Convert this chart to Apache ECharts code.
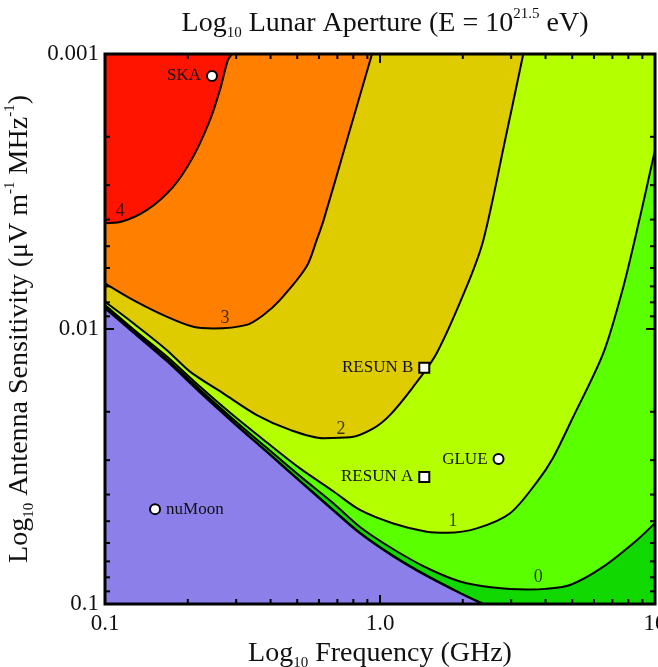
<!DOCTYPE html>
<html>
<head>
<meta charset="utf-8">
<title>Log10 Lunar Aperture</title>
<script src="https://cdn.jsdelivr.net/npm/echarts@6/dist/echarts.min.js"></script>
<style>
html, body { margin: 0; padding: 0; background: #fff; }
#chart { width: 658px; height: 667px; }
</style>
</head>
<body>
<div id="chart"></div>
<script>
// everything is in log10 units: [log10 frequency (GHz), log10 sensitivity]
const xTickLabels = ['0.1', '1.0', '10'];
const yTickLabels = ['0.001', '0.01', '0.1'];
const xDecades = [-1, 0, 1];
const yDecades = [-3, -2, -1];
const minorLogs = [0.301, 0.477, 0.602, 0.699, 0.778, 0.845, 0.903, 0.954];

// contour lines of log10 aperture
const curve4 = [[-1.000, -2.385], [-0.945, -2.389], [-0.847, -2.433], [-0.753, -2.516], [-0.680, -2.625],
    [-0.618, -2.760], [-0.582, -2.869], [-0.553, -2.978], [-0.538, -3.000]];
const curve3 = [[-1.000, -2.166], [-0.897, -2.105], [-0.776, -2.045], [-0.679, -2.008], [-0.607, -2.002],
    [-0.485, -2.015], [-0.424, -2.051], [-0.364, -2.105], [-0.267, -2.227], [-0.230, -2.324],
    [-0.205, -2.396], [-0.120, -2.687], [-0.029, -3.000]];
const curve2 = [[-1.000, -2.099], [-0.897, -2.021], [-0.776, -1.924], [-0.691, -1.845], [-0.570, -1.766],
    [-0.448, -1.687], [-0.327, -1.633], [-0.206, -1.603], [-0.109, -1.606], [-0.024, -1.639],
    [0.036, -1.687], [0.120, -1.789], [0.206, -1.912], [0.315, -2.154], [0.376, -2.324],
    [0.455, -2.687], [0.521, -3.000]];
const curve1 = [[-1.000, -2.087], [-0.898, -2.000], [-0.775, -1.900], [-0.655, -1.791], [-0.535, -1.687],
    [-0.411, -1.587], [-0.291, -1.493], [-0.171, -1.411], [-0.073, -1.342], [0.048, -1.293],
    [0.170, -1.263], [0.243, -1.259], [0.352, -1.275], [0.473, -1.330], [0.571, -1.444],
    [0.629, -1.531], [0.697, -1.669], [0.812, -1.912], [0.885, -2.154], [0.943, -2.396], [1.000, -2.651]];
const curve0 = [[-1.000, -2.082], [-0.898, -1.995], [-0.775, -1.891], [-0.655, -1.780], [-0.535, -1.673],
    [-0.411, -1.567], [-0.291, -1.465], [-0.171, -1.367], [-0.073, -1.280], [0.047, -1.200],
    [0.171, -1.131], [0.291, -1.082], [0.411, -1.060], [0.535, -1.053], [0.600, -1.055],
    [0.691, -1.069], [0.811, -1.135], [0.935, -1.233], [1.000, -1.295]];
// lower edge: below it no detection (purple)
const noDetectEdge = [[-1.000, -2.076], [-0.898, -1.989], [-0.775, -1.884], [-0.655, -1.771], [-0.535, -1.662],
    [-0.411, -1.553], [-0.291, -1.447], [-0.171, -1.342], [-0.073, -1.258], [0.047, -1.175],
    [0.171, -1.102], [0.291, -1.040], [0.375, -1.000]];

const circleSites = [['SKA', -0.611, -2.920, 'left'], ['GLUE', 0.431, -1.527, 'left'], ['nuMoon', -0.818, -1.345, 'right']];
const squareSites = [['RESUN B', 0.161, -1.859, 'left'], ['RESUN A', 0.161, -1.462, 'left']];
const levelLabels = [['4', -0.945, -2.429], ['3', -0.564, -2.040], ['2', -0.142, -1.636], ['1', 0.265, -1.302], ['0', 0.575, -1.098]];

const serif = 'Liberation Serif';

// filled band: the area between a contour and the top (or bottom) edge
function band(pts, color, origin) {
    return {
        type: 'line', data: pts, showSymbol: false, silent: true, z: 2,
        smooth: 0.3,
        lineStyle: { width: 0 },
        areaStyle: { color: color, opacity: 1, origin: origin }
    };
}

function contour(pts, width) {
    return {
        type: 'line', data: pts, showSymbol: false, silent: true, z: 3,
        smooth: 0.3,
        lineStyle: { color: '#000', width: width }
    };
}

const sub = { fontFamily: serif, fontSize: 15, lineHeight: 15, verticalAlign: 'bottom', color: '#111' };
const sup = { fontFamily: serif, fontSize: 15, lineHeight: 15, verticalAlign: 'top', color: '#111' };
const big = { fontFamily: serif, fontSize: 28, lineHeight: 34, fontWeight: 'normal', color: '#111' };

const chart = echarts.init(document.getElementById('chart'));
chart.setOption({
    animation: false,
    title: {
        text: '{t|Log}{s|10}{t| Lunar Aperture (E = 10}{p|21.5}{t| eV)}',
        left: 380,
        top: 2,
        textAlign: 'center',
        textStyle: { fontWeight: 'normal', rich: { t: big, s: sub, p: sup } }
    },
    grid: {
        left: 105, top: 54, width: 550, height: 550,
        outerBoundsMode: 'none',
        show: true, backgroundColor: '#10d800', borderWidth: 0
    },
    xAxis: {
        type: 'value', min: -1, max: 1, interval: 1,
        name: '{t|Log}{s|10}{t| Frequency (GHz)}',
        nameLocation: 'middle', nameGap: 30,
        nameTextStyle: { rich: { t: big, s: sub } },
        axisLine: { show: false }, axisTick: { show: false }, splitLine: { show: false },
        axisLabel: {
            margin: 8, fontFamily: serif, fontSize: 23, color: '#111',
            formatter: function (v) { return xTickLabels[xDecades.indexOf(v)]; }
        }
    },
    yAxis: {
        type: 'value', min: -3, max: -1, interval: 1, inverse: true,
        name: '{t|Log}{s|10}{t| Antenna Sensitivity (\u03bcV m}{p|-1}{t| MHz}{p|-1}{t|)}',
        nameLocation: 'middle', nameGap: 62, nameRotate: 90,
        nameTextStyle: { rich: { t: big, s: sub, p: sup } },
        axisLine: { show: false }, axisTick: { show: false }, splitLine: { show: false },
        axisLabel: {
            margin: 6, fontFamily: serif, fontSize: 23, color: '#111',
            formatter: function (v) { return yTickLabels[yDecades.indexOf(v)]; }
        }
    },
    series: [
        band(curve0, '#5aff00', 'start'),
        band(curve1, '#b4ff00', 'start'),
        band(curve2, '#decb00', 'start'),
        band(curve3, '#ff8000', 'start'),
        band(curve4, '#ff1400', 'start'),
        band(noDetectEdge, '#8c7fea', 'end'),
        contour(curve0, 2),
        contour(curve1, 2),
        contour(curve2, 2),
        contour(curve3, 2),
        contour(curve4, 2),
        contour(noDetectEdge, 2.5),
        {
            // frame and log ticks on all four sides
            type: 'custom',
            silent: true,
            z: 4,
            data: [[-1, -3]],
            renderItem: function (params, api) {
                const tl = api.coord([-1, -3]);
                const br = api.coord([1, -1]);
                const kids = [];
                function seg(x1, y1, x2, y2) {
                    kids.push({ type: 'line', shape: { x1: x1, y1: y1, x2: x2, y2: y2 }, style: { stroke: '#000', lineWidth: 2 } });
                }
                function xTick(v, len) {
                    const x = api.coord([v, -3])[0];
                    seg(x, br[1], x, br[1] - len);
                    seg(x, tl[1], x, tl[1] + len);
                }
                function yTick(v, len) {
                    const y = api.coord([-1, v])[1];
                    seg(tl[0], y, tl[0] + len, y);
                    seg(br[0], y, br[0] - len, y);
                }
                xDecades.forEach(function (d, i) {
                    xTick(d, 9);
                    if (i < xDecades.length - 1) minorLogs.forEach(function (m) { xTick(d + m, 5); });
                });
                yDecades.forEach(function (d, i) {
                    yTick(d, 9);
                    if (i < yDecades.length - 1) minorLogs.forEach(function (m) { yTick(d + m, 5); });
                });
                kids.push({
                    type: 'rect',
                    shape: { x: tl[0], y: tl[1], width: br[0] - tl[0], height: br[1] - tl[1] },
                    style: { fill: 'transparent', stroke: '#000', lineWidth: 3 }
                });
                return { type: 'group', children: kids };
            }
        },
        {
            type: 'scatter',
            symbol: 'circle',
            symbolSize: 10,
            z: 5,
            itemStyle: { color: '#fff', borderColor: '#000', borderWidth: 2, opacity: 1 },
            data: circleSites.map(function (s) {
                return { name: s[0], value: [s[1], s[2]], label: { position: s[3] } };
            }),
            label: { show: true, formatter: '{b}', distance: 5, fontFamily: serif, fontSize: 17, color: '#111' }
        },
        {
            type: 'scatter',
            symbol: 'rect',
            symbolSize: 10,
            z: 5,
            itemStyle: { color: '#fff', borderColor: '#000', borderWidth: 2, opacity: 1 },
            data: squareSites.map(function (s) {
                return { name: s[0], value: [s[1], s[2]], label: { position: s[3] } };
            }),
            label: { show: true, formatter: '{b}', distance: 5, fontFamily: serif, fontSize: 17, color: '#111' }
        },
        {
            type: 'scatter',
            symbolSize: 1,
            z: 5,
            itemStyle: { color: 'transparent' },
            data: levelLabels.map(function (s) { return { name: s[0], value: [s[1], s[2]] }; }),
            label: { show: true, position: 'inside', formatter: '{b}', fontFamily: serif, fontSize: 18, color: '#111' }
        }
    ]
});
</script>
</body>
</html>
